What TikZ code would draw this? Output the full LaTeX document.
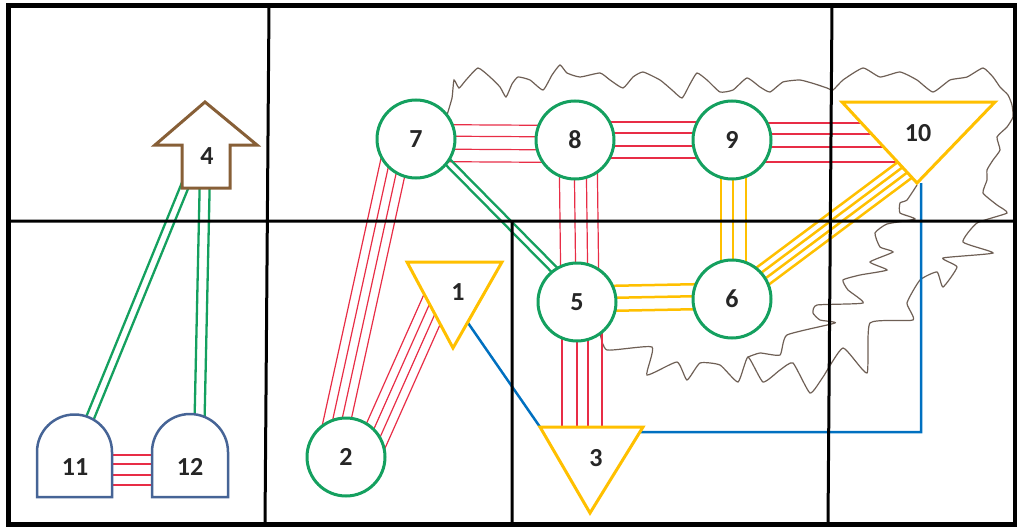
\documentclass[tikz,border=0pt]{standalone}
\usepackage{fontspec}
\setmainfont{Carlito}
\usetikzlibrary{calc}
\pgfdeclarelayer{back}
\pgfsetlayers{back,main}
\definecolor{wirered}{RGB}{232,45,70}
\definecolor{nodegreen}{RGB}{20,160,95}
\definecolor{gold}{RGB}{255,192,0}
\definecolor{linkblue}{RGB}{0,112,192}
\definecolor{archblue}{RGB}{70,100,150}
\definecolor{brownie}{RGB}{135,95,55}
\definecolor{cloudline}{RGB}{110,95,85}
\definecolor{inkgrey}{RGB}{38,38,38}
%% parallel wires: style, offsets, from, to
\newcommand{\wires}[4]{\foreach \off in {#2}{\draw[#1] ($(#3)!\off!90:(#4)$) -- ($(#4)!\off!-90:(#3)$);}}

\begin{document}
\begin{tikzpicture}[x=1pt, y=-1pt,
             lbl/.style = {font=\fontsize{26}{30}\selectfont\bfseries, text=inkgrey, inner sep=1pt},
             hub/.style = {circle, draw=nodegreen, line width=3pt, fill=white, minimum size=78pt, inner sep=0pt, text=inkgrey, font=\fontsize{26}{30}\selectfont\bfseries},
             tri/.style = {draw=gold, line width=3pt, fill=white, line join=miter},
            arch/.style = {draw=archblue, line width=2.5pt, fill=white},
            red4/.style = {draw=wirered, line width=1.2pt},
             grn/.style = {draw=nodegreen, line width=2.3pt},
             ylw/.style = {draw=gold, line width=2.5pt},
             blu/.style = {draw=linkblue, line width=2.5pt},
            cell/.style = {draw=black, line width=3pt},
]
\useasboundingbox (0,0) rectangle (1017,527);
\node [hub] (n7) at (416,139) {7};
\node [hub] (n8) at (575,140) {8};
\node [hub] (n9) at (732,140) {9};
\node [hub] (n5) at (577,302) {5};
\node [hub] (n6) at (732,299) {6};
\node [hub] (n2) at (346,457) {2};
%% triangles
\draw [tri] (842,102) coordinate (t10a) -- (995,102) -- (917,183) coordinate (t10c) -- cycle;
\node [lbl] (n10) at (918,133) {10};
\draw [tri] (407,262) -- (502,262) -- (453,348) -- cycle;
\node [lbl] (n1) at (458,292) {1};
\draw [tri] (540,427) coordinate (t3a) -- (643,427) -- (590,513) -- cycle;
\node [lbl] (n3) at (596,458) {3};
%% arrow and arches
\draw [draw=brownie, line width=3pt, fill=white, line join=miter] (205,102) -- (257,145) -- (230,145) -- (230,188) -- (182,188) -- (182,145) -- (155,145) -- cycle;
\node [lbl] (n4) at (207,156) {4};
\draw [arch] (37,497) -- (37,452) arc[start angle=180, end angle=0, radius=37.5pt] -- (112,497) -- cycle;
\node [lbl] (n11) at (75,467) {11};
\draw [arch] (152,497) -- (152,452) arc[start angle=180, end angle=0, radius=38pt] -- (228,497) -- cycle;
\node [lbl] (n12) at (190,467) {12};
%% ports
\coordinate (p2) at ($(n2)+(23,-6)$);
\coordinate (p1) at ($(n1)+(-20,4)$);
\coordinate (p1s) at ($(n1)+(-1,15)$);
\coordinate (p10) at ($(t10c)!.45!(n10)$);
\coordinate (p10b) at ($(t10c)+(4,0)$);
\coordinate (p4l) at ($(n4)+(-16,15)$);
\coordinate (p4r) at ($(n4)+(-2,15)$);
\coordinate (p11) at ($(n11)+(6,-27)$);
\coordinate (p12) at ($(n12)+(9,-22)$);
\coordinate (p3) at ($(n3)+(28,-26)$);

\begin{pgfonlayer}{back}
%% cloud outline
\draw [cloudline, line width=1.2pt] plot[smooth, tension=.3] coordinates {(447,115) (452,98) (454,80) (459,88) (466,80) (478,68) (490,77) (500,87) (506,97) (512,84) (518,77) (530,80) (543,90) (552,75) (560,65) (567,73) (580,77) (600,73) (610,80) (623,88) (633,77) (643,72) (660,80) (672,90) (682,98) (690,84) (697,73) (707,80) (720,92) (733,90) (747,78) (760,87) (770,92) (783,82) (800,80) (815,84) (827,88) (833,90) (843,80) (863,68) (880,77) (900,72) (917,80) (933,92) (950,80) (967,77) (983,68) (993,77) (1000,87) (1008,95) (1012,105) (1013,117) (1007,127) (997,137) (1000,150) (993,160) (987,170) (987,180) (983,193) (997,205) (1007,213) (977,223) (963,242) (993,253) (943,258) (957,267) (943,287) (937,272) (920,280) (907,303) (913,320) (870,323) (867,373) (843,348) (823,377) (810,393) (793,363) (780,370) (763,382) (748,357) (738,382) (720,365) (700,363) (687,380) (677,362) (647,375) (652,347) (607,350) (600,333)};
\draw [cloudline, line width=1.2pt] plot[smooth, tension=.3] coordinates {(917,185) (907,200) (900,203) (900,213) (915,219) (887,224) (875,233) (880,247) (893,252) (870,262) (887,270) (860,275) (843,280) (848,290) (863,303) (817,305) (813,313) (820,320) (835,323) (787,335) (780,355) (760,353) (748,357)};
%% links
\wires{red4}{14.5pt,3pt,-10pt,-22.5pt}{n7}{n8}
\wires{red4}{18pt,7pt,-6pt,-18pt}{n8}{n9}
\wires{red4}{17pt,6pt,-7pt,-22pt}{n9}{n10 |- n9}
\wires{red4}{-30pt,-21pt,-12pt,-3pt}{n7}{n2}
\wires{red4}{-13.5pt,-4.5pt,4.5pt,13.5pt}{p2}{p1}
\wires{red4}{-16pt,-1pt,11pt,22pt}{n8}{n5}
\wires{red4}{-15pt,0pt,11pt,25pt}{n5}{n5 |- n3}
\wires{red4}{12pt,3pt,-8pt,-18pt}{n11}{n12}
\wires{grn}{3pt,10pt}{n7}{n5}
\wires{grn}{-4pt,4pt}{p4l}{p11}
\wires{grn}{-5pt,5pt}{p4r}{p12}
\wires{ylw}{-11pt,1pt,14pt}{n9}{n6}
\wires{ylw}{15.5pt,3.5pt,-9.5pt}{n5}{n6}
\wires{ylw}{-10.5pt,-3.5pt,3.5pt,10.5pt}{n6}{p10}
\path [blu] (p1s) -- (t3a)
            (p3) -| (p10b);
%% frame
\draw [cell] (269,6) -- (265,524) (832,6) -- (828,524) (512,221) -- (512,524) (8,221) -- (1015,221);
\draw [line width=5pt] (8,6) rectangle (1015,524);
\end{pgfonlayer}
\end{tikzpicture}
\end{document}
